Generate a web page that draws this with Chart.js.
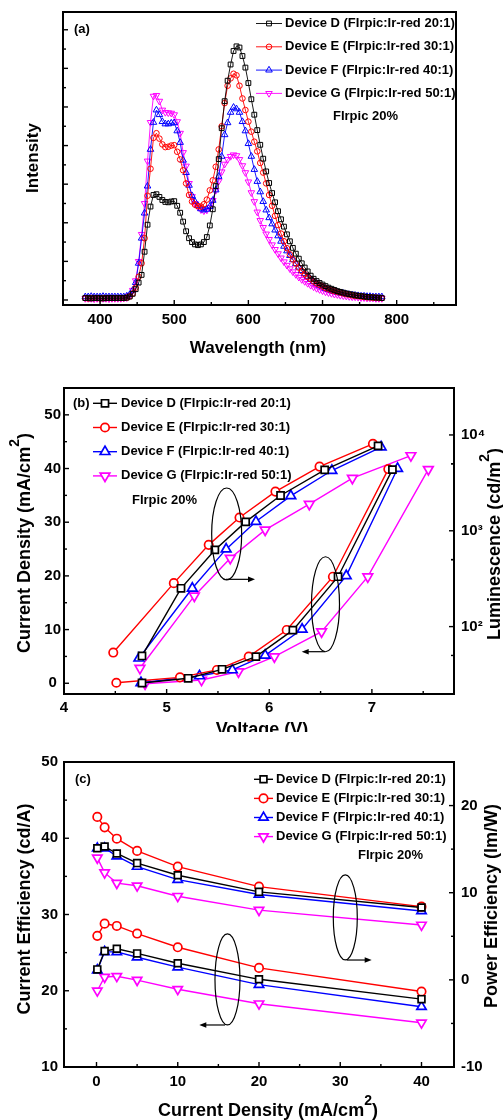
<!DOCTYPE html>
<html><head><meta charset="utf-8">
<script src="https://cdn.jsdelivr.net/npm/chart.js@4.4.0/dist/chart.umd.min.js"></script>
<style>
html,body{margin:0;padding:0;background:#fff;}
#wrap{position:relative;width:503px;height:1120px;overflow:hidden;background:#fff;}
.pane{position:absolute;left:0;width:503px;}
</style></head><body>
<div id="wrap">
<div class="pane" style="top:0;height:370px"><canvas id="ca" width="503" height="370"></canvas></div>
<div class="pane" style="top:370px;height:362px"><canvas id="cb" width="503" height="362"></canvas></div>
<div class="pane" style="top:740px;height:380px"><canvas id="cc" width="503" height="380"></canvas></div>
</div>
<script>
// ---------------- DATA ----------------
const DEVICES = ['D', 'E', 'F', 'G'];
const LEGEND_LABELS = [
  'Device D (FIrpic:Ir-red 20:1)',
  'Device E (FIrpic:Ir-red 30:1)',
  'Device F (FIrpic:Ir-red 40:1)',
  'Device G (FIrpic:Ir-red 50:1)'
];
const NOTE = 'FIrpic 20%';

// (a) EL spectra
const WAVELENGTH = [380,384,388,392,396,400,404,408,412,416,
  420,424,428,432,436,440,444,448,452,456,
  460,464,468,472,476,480,484,488,492,496,
  500,504,508,512,516,520,524,528,532,536,
  540,544,548,552,556,560,564,568,572,576,
  580,584,588,592,596,600,604,608,612,616,
  620,624,628,632,636,640,644,648,652,656,
  660,664,668,672,676,680,684,688,692,696,
  700,704,708,712,716,720,724,728,732,736,
  740,744,748,752,756,760,764,768,772,776,
  780];
const INT_D = [0.05,0.05,0.04,0.05,0.05,0.05,0.04,0.05,0.05,0.05,
  0.05,0.05,0.05,0.05,0.06,0.09,0.16,0.28,0.45,0.65,
  1.25,1.95,2.42,2.72,2.74,2.67,2.59,2.54,2.53,2.55,
  2.56,2.44,2.26,2.03,1.78,1.60,1.50,1.44,1.42,1.44,
  1.50,1.63,1.93,2.35,2.95,3.65,4.45,5.15,5.68,6.10,
  6.45,6.57,6.54,6.32,6.02,5.62,5.20,4.80,4.40,4.02,
  3.66,3.33,3.03,2.77,2.53,2.30,2.09,1.90,1.70,1.52,
  1.35,1.20,1.07,0.95,0.84,0.74,0.63,0.55,0.49,0.44,
  0.40,0.36,0.32,0.29,0.26,0.23,0.21,0.19,0.17,0.15,
  0.14,0.12,0.11,0.10,0.09,0.08,0.07,0.07,0.06,0.06,
  0.05];
const INT_E = [0.05,0.04,0.05,0.05,0.05,0.04,0.05,0.05,0.05,0.05,
  0.05,0.05,0.05,0.05,0.06,0.09,0.17,0.32,0.60,0.95,
  1.60,2.70,3.40,4.20,4.32,4.18,4.03,3.96,3.97,4.00,
  4.01,3.84,3.64,3.36,3.02,2.72,2.55,2.47,2.43,2.42,
  2.48,2.60,2.84,3.10,3.45,3.90,4.50,5.10,5.55,5.74,
  5.86,5.82,5.55,5.22,4.92,4.62,4.36,4.10,3.85,3.55,
  3.30,3.02,2.72,2.44,2.18,1.94,1.72,1.52,1.34,1.18,
  1.05,0.94,0.84,0.75,0.67,0.60,0.54,0.48,0.43,0.39,
  0.35,0.31,0.28,0.25,0.23,0.21,0.19,0.17,0.15,0.14,
  0.12,0.11,0.10,0.09,0.08,0.07,0.07,0.06,0.06,0.05,
  0.05];
const INT_F = [0.08,0.08,0.09,0.08,0.08,0.08,0.09,0.08,0.08,0.08,
  0.08,0.08,0.08,0.08,0.10,0.14,0.25,0.45,0.95,1.60,
  2.25,2.95,3.90,4.60,4.92,4.80,4.62,4.56,4.56,4.58,
  4.59,4.38,4.08,3.62,3.30,2.97,2.70,2.55,2.44,2.36,
  2.33,2.35,2.42,2.58,2.85,3.20,3.72,4.28,4.59,4.86,
  4.99,4.95,4.86,4.62,4.38,4.05,3.72,3.38,3.07,2.80,
  2.55,2.33,2.13,1.97,1.81,1.66,1.52,1.39,1.27,1.15,
  1.04,0.94,0.85,0.76,0.68,0.61,0.54,0.48,0.43,0.38,
  0.34,0.30,0.27,0.24,0.22,0.20,0.18,0.17,0.15,0.14,
  0.13,0.12,0.11,0.10,0.10,0.09,0.09,0.08,0.08,0.08,
  0.08];
const INT_G = [0.04,0.04,0.04,0.03,0.04,0.04,0.04,0.04,0.03,0.04,
  0.04,0.04,0.04,0.05,0.06,0.12,0.25,0.50,1.00,1.70,
  2.50,3.60,4.60,5.28,5.30,5.15,4.92,4.86,4.85,4.84,
  4.80,4.62,4.32,3.82,3.47,3.02,2.68,2.50,2.41,2.34,
  2.31,2.33,2.40,2.58,2.84,3.08,3.32,3.52,3.64,3.72,
  3.76,3.74,3.64,3.48,3.30,3.06,2.78,2.55,2.28,2.06,
  1.88,1.71,1.57,1.43,1.31,1.20,1.09,0.99,0.90,0.81,
  0.73,0.66,0.59,0.53,0.48,0.43,0.38,0.34,0.30,0.27,
  0.24,0.21,0.19,0.17,0.15,0.14,0.12,0.11,0.10,0.09,
  0.08,0.08,0.07,0.06,0.06,0.05,0.05,0.05,0.04,0.04,
  0.04];
const WL_TICKS = [400, 500, 600, 700, 800];
const INT_TICKS = [0, 1, 2, 3, 4, 5, 6, 7];

// (b) J-V-L
const V_J_D = [4.76, 5.21, 5.54, 5.87, 6.23, 6.67, 7.20];
const J_D   = [0.05, 0.93, 2.6, 4.96, 9.9, 19.85, 39.8];
const V_J_E = [4.51, 5.13, 5.49, 5.80, 6.17, 6.62, 7.16];
const J_E   = [0.1, 1.1, 2.48, 4.96, 9.93, 19.85, 39.9];
const V_J_F = [4.75, 5.32, 5.64, 5.96, 6.32, 6.75, 7.25];
const J_F   = [0.1, 1.36, 2.48, 5.2, 10.05, 20.0, 40.0];
const V_J_G = [4.79, 5.34, 5.70, 6.05, 6.51, 6.96, 7.55];
const J_G   = [-0.1, 0.6, 2.16, 4.96, 9.62, 19.85, 39.85];
const V_L_D = [4.76, 5.14, 5.47, 5.77, 6.11, 6.54, 7.06];
const L_D   = [49.4, 251, 631, 1239, 2334, 4325, 7690];
const V_L_E = [4.48, 5.07, 5.41, 5.71, 6.06, 6.49, 7.01];
const L_E   = [53.6, 284, 713, 1374, 2564, 4677, 8072];
const V_L_F = [4.73, 5.25, 5.58, 5.87, 6.21, 6.61, 7.09];
const L_F   = [46.8, 251, 643, 1248, 2312, 4256, 7464];
const V_L_G = [4.74, 5.27, 5.62, 5.96, 6.39, 6.81, 7.38];
const L_G   = [36.8, 209, 518, 1021, 1897, 3540, 6095];
const V_TICKS = [4, 5, 6, 7];
const J_TICKS = [0, 10, 20, 30, 40, 50];
const LUM_TICKS = [100, 1000, 10000];
const LUM_TICK_LABELS = ['10\u00B2', '10\u00B3', '10\u2074'];

// (c) efficiencies
const JC = [0.1, 1, 2.5, 5, 10, 20, 40];
const CE_D = [22.8, 25.2, 25.5, 24.9, 23.6, 21.5, 18.9];
const CE_E = [27.2, 28.8, 28.5, 27.5, 25.7, 23.0, 19.9];
const CE_F = [22.7, 25.1, 25.1, 24.4, 23.1, 20.8, 17.9];
const CE_G = [20.0, 21.8, 21.9, 21.4, 20.2, 18.3, 15.8];
const PE_D = [15.1, 15.3, 14.5, 13.4, 12.0, 10.1, 8.3];
const PE_E = [18.7, 17.5, 16.2, 14.8, 13.0, 10.7, 8.4];
const PE_F = [15.1, 15.1, 14.2, 13.0, 11.5, 9.8, 7.9];
const PE_G = [14.0, 12.3, 11.1, 10.8, 9.6, 8.0, 6.3];
const JC_TICKS = [0, 10, 20, 30, 40];
const CE_TICKS = [10, 20, 30, 40, 50];
const PE_TICKS = [-10, 0, 10, 20];

// ---------------- STYLE ----------------
const FONT = '"Liberation Sans", Arial, Helvetica, sans-serif';
Chart.defaults.font.family = FONT;
const COLORS = {D: '#000000', E: '#ff0000', F: '#0000ff', G: '#ff00ff'};
const SHAPE = {D: ['rect', 0], E: ['circle', 0], F: ['triangle', 0], G: ['triangle', 180]};
function fnt(size) { return 'bold ' + size + 'px ' + FONT; }

function dsStyle(dev, sizes, lw, mlw, fill) {
  const [ps, rot] = SHAPE[dev];
  const r = ps === 'rect' ? sizes.rect : ps === 'circle' ? sizes.circle : sizes.tri;
  return {
    borderColor: COLORS[dev], borderWidth: lw,
    pointStyle: ps, pointRotation: rot, pointRadius: r,
    pointBorderColor: COLORS[dev], pointBorderWidth: mlw,
    pointBackgroundColor: fill, fill: false, tension: 0, pointHoverRadius: r
  };
}
const toXY = (xs, ys) => xs.map((x, i) => ({x: x, y: ys[i]}));

function drawRich(ctx, parts, x, y, rot, size) {
  ctx.save();
  ctx.translate(x, y); ctx.rotate(rot);
  ctx.textBaseline = 'middle'; ctx.textAlign = 'left'; ctx.fillStyle = '#000';
  const sup = Math.round(size * 0.8);
  let w = 0;
  for (const p of parts) { ctx.font = fnt(p.sup ? sup : size); w += ctx.measureText(p.t).width; }
  let cx = -w / 2;
  for (const p of parts) {
    ctx.font = fnt(p.sup ? sup : size);
    ctx.fillText(p.t, cx, p.sup ? -size * 0.55 : 0);
    cx += ctx.measureText(p.t).width;
  }
  ctx.restore();
}

const decor = {
  id: 'decor',
  afterDatasetsDraw(chart, args, o) {
    const ctx = chart.ctx, ca = chart.chartArea;
    ctx.save();
    // frame
    ctx.strokeStyle = '#000'; ctx.lineWidth = 2;
    ctx.strokeRect(ca.left, ca.top, ca.right - ca.left, ca.bottom - ca.top);
    // inward ticks
    ctx.lineWidth = 1.4;
    for (const t of o.ticks) {
      const s = chart.scales[t.id];
      const majors = s.ticks.map(k => k.value);
      let minors = [];
      if (s.type === 'logarithmic') {
        majors.forEach(m => { minors.push(m * 0.5, m * 5); });
      } else {
        const st = majors[1] - majors[0];
        for (let v = majors[0] - st / 2; v <= s.max + 1e-9; v += st) minors.push(v);
      }
      const draw = (v, len) => {
        if (v < s.min - 1e-9 || v > s.max + 1e-9) return;
        const p = s.getPixelForValue(v);
        ctx.beginPath();
        if (t.side === 'bottom') { ctx.moveTo(p, ca.bottom); ctx.lineTo(p, ca.bottom - len); }
        else if (t.side === 'left') { ctx.moveTo(ca.left, p); ctx.lineTo(ca.left + len, p); }
        else { ctx.moveTo(ca.right, p); ctx.lineTo(ca.right - len, p); }
        ctx.stroke();
      };
      majors.forEach(v => draw(v, 5));
      minors.forEach(v => draw(v, 3));
    }
    // ellipses & arrows (annotation marks in data coordinates)
    ctx.strokeStyle = '#000'; ctx.fillStyle = '#000'; ctx.lineWidth = 1.2;
    const xs = chart.scales.x, ys = chart.scales.y;
    (o.ellipses || []).forEach(e => {
      ctx.beginPath();
      ctx.ellipse(xs.getPixelForValue(e.x), ys.getPixelForValue(e.y), e.rx, e.ry, 0, 0, Math.PI * 2);
      ctx.stroke();
    });
    (o.arrows || []).forEach(a => {
      const x1 = xs.getPixelForValue(a.x1), x2 = xs.getPixelForValue(a.x2), y = ys.getPixelForValue(a.y);
      const d = Math.sign(x2 - x1);
      ctx.beginPath(); ctx.moveTo(x1, y); ctx.lineTo(x2 - d * 5, y); ctx.stroke();
      ctx.beginPath(); ctx.moveTo(x2, y); ctx.lineTo(x2 - d * 7, y - 2.8); ctx.lineTo(x2 - d * 7, y + 2.8); ctx.closePath(); ctx.fill();
    });
    // legend
    const lg = o.legend;
    LEGEND_LABELS.forEach((lab, i) => {
      const ds = chart.data.datasets[i];
      const y = lg.y0 + i * lg.dy;
      ctx.strokeStyle = ds.borderColor; ctx.lineWidth = ds.borderWidth;
      ctx.beginPath(); ctx.moveTo(lg.x0, y); ctx.lineTo(lg.x1, y); ctx.stroke();
      ctx.lineWidth = ds.pointBorderWidth; ctx.fillStyle = ds.pointBackgroundColor;
      Chart.helpers.drawPoint(ctx, {pointStyle: ds.pointStyle, rotation: ds.pointRotation,
        radius: ds.pointRadius, borderWidth: ds.pointBorderWidth}, (lg.x0 + lg.x1) / 2, y);
      ctx.fillStyle = '#000'; ctx.font = fnt(13); ctx.textBaseline = 'middle'; ctx.textAlign = 'left';
      ctx.fillText(lab, lg.xt, y);
    });
    // free texts
    ctx.fillStyle = '#000'; ctx.font = fnt(13); ctx.textBaseline = 'middle'; ctx.textAlign = 'left';
    (o.texts || []).forEach(t => ctx.fillText(t.t, t.x, t.y));
    // axis titles
    (o.titles || []).forEach(t => drawRich(ctx, t.parts, t.x, t.y, t.rot, t.size));
    ctx.restore();
  }
};

const setTicks = arr => s => { s.ticks = arr.map(v => ({value: v})); };
const tickFont = {family: FONT, size: 15, weight: 'bold'};
const noGrid = {display: false, drawTicks: false};
const noBorder = {display: false};
const baseOpts = {
  responsive: false, animation: false, devicePixelRatio: 1, events: [],
};

// ---------------- (a) ----------------
const INTENSITY = [INT_D, INT_E, INT_F, INT_G];
new Chart(document.getElementById('ca'), {
  type: 'line',
  data: { datasets: DEVICES.map((d, i) => Object.assign({
    label: LEGEND_LABELS[i], data: toXY(WAVELENGTH, INTENSITY[i])
  }, dsStyle(d, {rect: 3.4, circle: 2.8, tri: 3.8}, 0.9, 1, 'rgba(0,0,0,0)'))) },
  options: Object.assign({}, baseOpts, {
    layout: {padding: {top: 12, right: 47, left: 0, bottom: 0}},
    plugins: {legend: {display: false}, tooltip: {enabled: false},
      decor: {
        ticks: [{id: 'x', side: 'bottom'}, {id: 'y', side: 'left'}],
        legend: {x0: 256, x1: 282, xt: 285, y0: 23.5, dy: 23.3},
        texts: [{t: '(a)', x: 74, y: 29}, {t: NOTE, x: 333, y: 116}],
        titles: [
          {parts: [{t: 'Wavelength (nm)'}], x: 258, y: 348, rot: 0, size: 17},
          {parts: [{t: 'Intensity'}], x: 33, y: 158, rot: -Math.PI / 2, size: 17}
        ]
      }},
    scales: {
      x: {type: 'linear', min: 350, max: 880, afterBuildTicks: setTicks(WL_TICKS),
        afterFit: s => { s.height = 65; }, grid: noGrid, border: noBorder,
        ticks: {color: '#000', font: tickFont, padding: 6, maxRotation: 0, autoSkip: false}},
      y: {type: 'linear', min: -0.13, max: 7.46, afterBuildTicks: setTicks(INT_TICKS),
        afterFit: s => { s.width = 63; }, grid: noGrid, border: noBorder, ticks: {display: false}}
    }
  }),
  plugins: [decor]
});

// ---------------- (b) ----------------
const VJ = [V_J_D, V_J_E, V_J_F, V_J_G], JJ = [J_D, J_E, J_F, J_G];
const VL = [V_L_D, V_L_E, V_L_F, V_L_G], LL = [L_D, L_E, L_F, L_G];
const szB = {rect: 5, circle: 4.2, tri: 5.6};
const dsB = DEVICES.map((d, i) => Object.assign({label: LEGEND_LABELS[i], yAxisID: 'y', data: toXY(VJ[i], JJ[i])},
    dsStyle(d, szB, 1.4, 1.7, '#ffffff')))
  .concat(DEVICES.map((d, i) => Object.assign({label: LEGEND_LABELS[i] + ' L', yAxisID: 'y2', data: toXY(VL[i], LL[i])},
    dsStyle(d, szB, 1.4, 1.7, '#ffffff'))));
new Chart(document.getElementById('cb'), {
  type: 'line',
  data: {datasets: dsB},
  options: Object.assign({}, baseOpts, {
    layout: {padding: {top: 18, right: 0, left: 0, bottom: 0}},
    plugins: {legend: {display: false}, tooltip: {enabled: false},
      decor: {
        ticks: [{id: 'x', side: 'bottom'}, {id: 'y', side: 'left'}, {id: 'y2', side: 'right'}],
        legend: {x0: 93, x1: 117, xt: 121, y0: 33.3, dy: 24.2},
        texts: [{t: '(b)', x: 73, y: 33.3}, {t: NOTE, x: 132, y: 130}],
        ellipses: [{x: 5.585, y: 27.8, rx: 15, ry: 46}, {x: 6.548, y: 14.72, rx: 14, ry: 47.5}],
        arrows: [{x1: 5.578, x2: 5.861, y: 19.36}, {x1: 6.543, x2: 6.316, y: 5.88}],
        titles: [
          {parts: [{t: 'Current Density (mA/cm'}, {t: '2', sup: true}, {t: ')'}], x: 25, y: 173, rot: -Math.PI / 2, size: 18},
          {parts: [{t: 'Luminescence (cd/m'}, {t: '2', sup: true}, {t: ')'}], x: 495, y: 174, rot: -Math.PI / 2, size: 18},
          {parts: [{t: 'Voltage (V)'}], x: 262, y: 360, rot: 0, size: 18}
        ]
      }},
    scales: {
      x: {type: 'linear', min: 4, max: 7.8, afterBuildTicks: setTicks(V_TICKS),
        afterFit: s => { s.height = 38; }, grid: noGrid, border: noBorder,
        ticks: {color: '#000', font: tickFont, padding: 5, maxRotation: 0, autoSkip: false}},
      y: {type: 'linear', min: -2, max: 55, afterBuildTicks: setTicks(J_TICKS),
        afterFit: s => { s.width = 64; }, grid: noGrid, border: noBorder,
        ticks: {color: '#000', font: tickFont, padding: 3, crossAlign: 'center', autoSkip: false}},
      y2: {type: 'logarithmic', position: 'right', min: 19.8, max: 30900, afterBuildTicks: setTicks(LUM_TICKS),
        afterFit: s => { s.width = 49; }, grid: noGrid, border: noBorder,
        ticks: {color: '#000', font: tickFont, padding: 7, autoSkip: false,
          callback: v => LUM_TICK_LABELS[LUM_TICKS.indexOf(v)]}}
    }
  }),
  plugins: [decor]
});

// ---------------- (c) ----------------
const CE = [CE_D, CE_E, CE_F, CE_G], PE = [PE_D, PE_E, PE_F, PE_G];
const szC = {rect: 4.8, circle: 4.2, tri: 5.4};
const dsC = DEVICES.map((d, i) => Object.assign({label: LEGEND_LABELS[i], yAxisID: 'y', data: toXY(JC, CE[i])},
    dsStyle(d, szC, 1.4, 1.7, '#ffffff')))
  .concat(DEVICES.map((d, i) => Object.assign({label: LEGEND_LABELS[i] + ' PE', yAxisID: 'y2', data: toXY(JC, PE[i])},
    dsStyle(d, szC, 1.4, 1.7, '#ffffff'))));
new Chart(document.getElementById('cc'), {
  type: 'line',
  data: {datasets: dsC},
  options: Object.assign({}, baseOpts, {
    layout: {padding: {top: 22, right: 0, left: 0, bottom: 0}},
    plugins: {legend: {display: false}, tooltip: {enabled: false},
      decor: {
        ticks: [{id: 'x', side: 'bottom'}, {id: 'y', side: 'left'}, {id: 'y2', side: 'right'}],
        legend: {x0: 254, x1: 273, xt: 276, y0: 39.3, dy: 19.1},
        texts: [{t: '(c)', x: 75, y: 39.3}, {t: NOTE, x: 358, y: 115}],
        ellipses: [{x: 30.62, y: 29.61, rx: 12, ry: 42.5}, {x: 16.12, y: 21.48, rx: 12.5, ry: 45.5}],
        arrows: [{x1: 30.79, x2: 33.87, y: 24.03}, {x1: 15.82, x2: 12.65, y: 15.51}],
        titles: [
          {parts: [{t: 'Current Efficiency (cd/A)'}], x: 25, y: 169, rot: -Math.PI / 2, size: 18},
          {parts: [{t: 'Power Efficiency (lm/W)'}], x: 492, y: 166, rot: -Math.PI / 2, size: 18},
          {parts: [{t: 'Current Density (mA/cm'}, {t: '2', sup: true}, {t: ')'}], x: 268, y: 371, rot: 0, size: 18}
        ]
      }},
    scales: {
      x: {type: 'linear', min: -4, max: 44, afterBuildTicks: setTicks(JC_TICKS),
        afterFit: s => { s.height = 53; }, grid: noGrid, border: noBorder,
        ticks: {color: '#000', font: tickFont, padding: 6, maxRotation: 0, autoSkip: false}},
      y: {type: 'linear', min: 10, max: 50, afterBuildTicks: setTicks(CE_TICKS),
        afterFit: s => { s.width = 64; }, grid: noGrid, border: noBorder,
        ticks: {color: '#000', font: tickFont, padding: 6, crossAlign: 'center', autoSkip: false}},
      y2: {type: 'linear', position: 'right', min: -10, max: 25, afterBuildTicks: setTicks(PE_TICKS),
        afterFit: s => { s.width = 49; }, grid: noGrid, border: noBorder,
        ticks: {color: '#000', font: tickFont, padding: 7, autoSkip: false}}
    }
  }),
  plugins: [decor]
});
</script>
</body></html>
